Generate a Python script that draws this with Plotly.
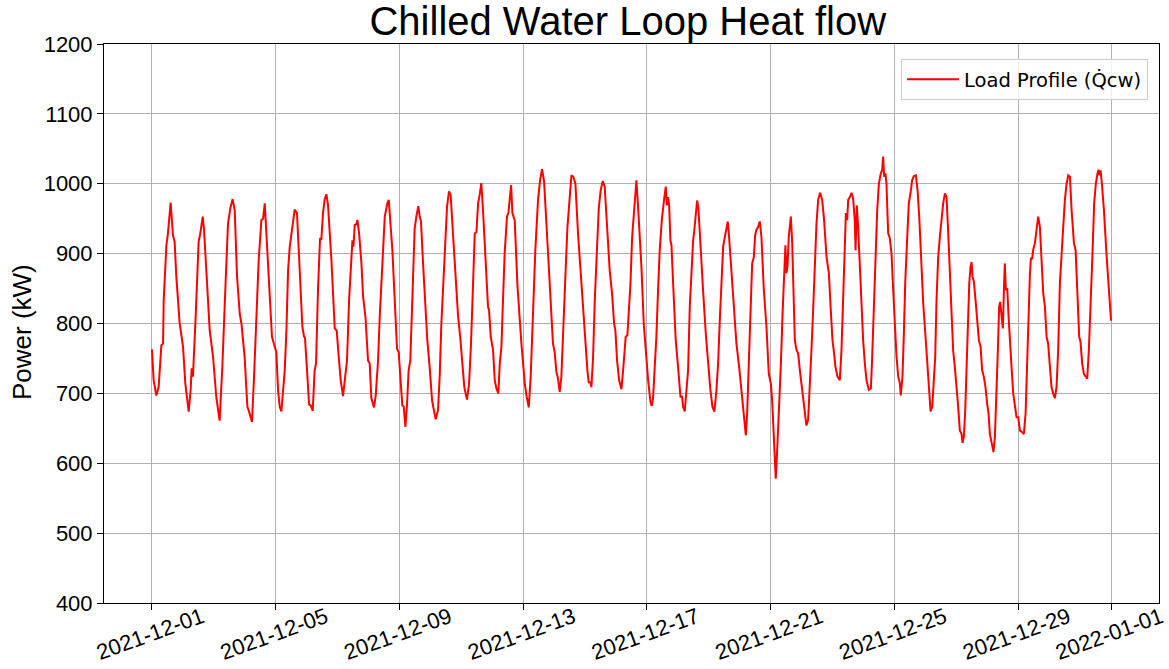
import pandas as pd
import plotly.graph_objects as go

# ---- data (hours since 2021-12-01 00:00, kW) ----
hours = [
    0, 1.3, 3.4, 5.2, 7.3, 8.6, 9.1, 11.2, 12.4, 14.5, 16.3, 17.6, 18.9, 21.5,
    24.1, 25.9, 28.5, 30.0, 30.8, 31.8, 33.9, 36.2, 37.5, 39.4, 40.4, 42.2, 44.8, 47.4,
    49.9, 52.5, 54.6, 57.2, 59.0, 60.8, 62.6, 64.2, 66.0, 68.1, 69.4, 71.9,
    74.0, 75.8, 77.6, 79.2, 81.0, 82.8, 84.9, 86.2, 87.5,
    89.5, 91.3, 93.1, 95.2, 96.5, 97.8, 99.1, 100.4, 101.7, 103.0, 104.3, 105.6, 106.9,
    108.7, 110.7, 112.5, 114.6, 116.7, 118.0, 118.7, 120.3, 121.9, 123.1, 124.7, 126.2,
    127.3, 128.8, 130.4, 131.4, 132.7, 134.0, 135.3, 136.6, 139.2, 141.8, 143.3, 144.9,
    146.4, 148.2, 149.5, 151.3, 152.9, 154.7, 155.5, 156.3, 157.3, 158.6, 159.4, 160.7,
    162.5, 163.8, 165.6, 167.6, 168.9, 170.2, 172.3, 173.6, 175.4, 176.7, 178.5, 180.6,
    182.6, 183.7,
    186.5, 188.3, 190.1, 191.4, 192.9, 194.2, 195.3, 196.6, 197.9, 199.1, 200.4, 202.0,
    203.8, 205.1, 206.6, 207.7, 208.7, 210.3, 212.1, 213.6, 215.4, 217.3, 218.5, 220.1,
    221.9, 223.2, 224.5, 226.3, 227.9, 228.9, 230.4, 231.7, 233.5, 235.6, 237.4, 239.2,
    240.8, 242.3, 244.4, 246.0, 247.5, 249.1, 250.4, 251.7, 253.0, 254.2, 255.5, 256.8,
    258.9, 260.7, 261.5, 262.8, 264.6, 265.9, 267.2, 268.7, 269.8, 271.1, 272.3, 273.6,
    275.4, 276.5, 277.5, 278.6, 279.6, 281.4,
    283.5, 285.3, 286.6, 287.9, 289.2, 290.7, 292.3, 293.8, 295.6, 297.4, 299.5, 301.1,
    302.6, 304.2, 306.0, 308.0, 309.9, 311.1, 312.4, 313.7, 315.0, 316.3, 317.6, 318.9,
    320.7, 322.3, 324.1, 325.4, 326.9, 328.5, 330.5, 332.6, 334.4, 336.2, 337.8, 338.8,
    339.9, 340.9, 342.2, 343.5, 345.0, 346.6, 348.1, 349.7, 351.2, 353.3, 355.1, 356.9,
    358.5, 359.5, 360.8, 362.4, 364.2, 365.7, 366.8, 367.5, 368.8, 370.1, 371.2, 372.5,
    374.0, 375.0, 375.8, 377.1,
    379.7, 381.5, 383.1, 384.9, 386.7, 387.7, 388.7, 390.0, 391.3, 392.6, 393.9, 395.5,
    396.5, 397.5, 398.6, 399.4, 400.4, 401.2, 402.2, 403.0, 404.3, 406.3, 408.1, 410.0,
    411.3, 412.0, 413.3, 414.6, 415.9, 417.2, 418.5, 419.8, 420.6, 421.9, 422.9, 423.9,
    425.5, 427.5, 429.6, 431.4, 433.2, 434.8, 436.3, 437.9, 439.2, 440.5, 441.8, 443.1,
    444.4, 445.7, 446.7, 447.7, 449.5, 451.3, 453.4, 455.5, 457.3, 458.6, 459.9, 460.7,
    461.7, 463.2, 464.5, 465.6, 466.9, 467.9, 468.9, 470.2, 471.5, 472.8, 474.6,
    476.7, 478.5, 480.1, 481.1, 482.1, 483.2, 483.9, 485.0, 486.3, 487.8, 489.1, 490.4,
    491.4, 492.2, 493.0, 494.0, 495.6, 496.6, 497.6, 498.7, 500.0, 501.3, 502.6, 503.9,
    505.1, 506.4, 507.7, 509.0, 510.3, 511.6, 512.9, 514.2, 515.5, 516.8, 518.3, 519.9,
    521.4, 523.3, 525.1, 526.6, 527.9, 529.2, 530.2, 531.8, 533.6, 534.9, 536.2, 537.5,
    538.3, 539.3, 540.1, 541.4, 542.7, 543.9, 545.2, 545.8, 546.8, 547.8, 549.1, 550.4,
    551.7, 553.0, 554.3, 556.1, 557.7, 558.7, 560.0, 561.3, 562.6, 563.9, 565.4, 566.5,
    567.2, 568.0, 569.0, 569.8, 571.1, 572.4,
    573.7, 575.0, 576.3, 577.6, 578.9, 580.2, 580.9, 582.2, 583.3, 584.3, 585.9, 587.1,
    588.4, 589.7, 591.0, 592.6, 593.9, 595.2, 597.0, 598.3, 600.1, 601.4, 602.7, 604.0,
    605.3, 606.5, 607.6, 608.6, 609.9, 611.2, 612.5, 613.8, 615.1, 616.4, 617.7, 619.0,
    620.3, 621.5, 622.8, 624.1, 625.4, 626.7, 628.0, 628.8, 629.8, 630.9, 631.9, 633.2,
    634.0, 635.0, 635.8, 636.5, 637.6, 638.9, 640.2, 641.5, 642.8, 644.0, 645.3, 646.6,
    647.9, 649.0, 650.0, 651.0, 651.8, 652.8, 653.9, 655.2, 656.2, 657.2, 658.0, 659.1,
    660.1, 660.9, 661.6, 662.4, 663.5, 664.5, 665.5,
    666.8, 668.1, 669.4, 670.7, 672.0, 673.3, 674.6, 676.4, 677.7, 678.4, 679.7, 681.0,
    681.8, 682.8, 683.6, 684.9, 686.2, 687.5, 688.8, 690.1, 691.4, 692.7, 694.0, 695.2,
    696.5, 697.8, 699.1, 700.4, 701.7, 703.0, 704.3, 705.6, 706.9, 708.2, 709.5, 710.8,
    712.1, 713.4, 715.2, 716.5, 717.8, 719.3, 720.3, 721.6, 722.9, 724.5, 725.5, 726.8,
    728.1, 729.7, 730.9, 732.2, 733.5, 734.3, 735.1, 735.9, 736.9, 738.5, 740.6, 742.1,
    744.0,
]

load_kw = [
    763, 719, 697, 709, 769, 771, 833, 912, 929, 973, 926, 917, 867, 800,
    767, 714, 674, 705, 736, 724, 810, 917, 929, 953, 934, 867, 790, 752,
    695, 661, 738, 862, 943, 965, 978, 962, 867, 814, 800, 752,
    681, 671, 659, 724, 810, 891, 948, 950, 972,
    905, 843, 781, 767, 759, 705, 681, 674, 700, 733, 790, 876, 910,
    938, 963, 958, 872, 795, 781, 780, 733, 684, 683, 675, 733,
    743, 848, 922, 920, 958, 978, 985, 969, 891, 793, 790, 752,
    719, 696, 716, 747, 833, 891, 919, 910, 941, 942, 948, 929,
    886, 838, 810, 747, 743, 693, 680, 697, 747, 810, 876, 953,
    972, 977,
    905, 833, 764, 759, 714, 683, 681, 652, 685, 733, 747, 843,
    936, 953, 968, 953, 946, 886, 819, 776, 738, 690, 678, 663,
    676, 724, 800, 872, 929, 967, 989, 984, 929, 862, 812, 779,
    743, 709, 691, 714, 771, 848, 929, 931, 972, 984, 1001, 962,
    886, 824, 819, 781, 762, 719, 707, 700, 743, 767, 833, 900,
    953, 958, 977, 998, 958, 948,
    855, 798, 771, 743, 714, 695, 680, 724, 824, 905, 977, 1005,
    1021, 1003, 943, 867, 805, 771, 759, 731, 721, 702, 724, 776,
    867, 938, 986, 1012, 1010, 1000, 929, 872, 819, 767, 733, 716,
    716, 709, 752, 833, 905, 965, 991, 1004, 996, 938, 876, 843,
    800, 790, 747, 719, 706, 738, 767, 781, 783, 819, 857, 924,
    962, 986, 1005, 967,
    881, 800, 757, 719, 688, 682, 693, 733, 781, 848, 905, 948,
    969, 981, 996, 969, 981, 969, 919, 912, 857, 776, 738, 695,
    695, 681, 674, 705, 733, 824, 881, 919, 931, 958, 976, 965,
    905, 848, 786, 738, 705, 681, 674, 705, 743, 805, 867, 910,
    924, 938, 946, 924, 872, 824, 771, 738, 705, 671, 652, 640,
    671, 752, 833, 886, 895, 926, 934, 938, 946, 924, 850,
    795, 728, 714, 690, 642, 604, 578, 619, 666, 738, 810, 867,
    912, 872, 881, 924, 953, 919, 843, 776, 762, 757, 733, 712,
    695, 666, 654, 662, 705, 762, 819, 886, 943, 977, 987, 977,
    948, 895, 872, 819, 776, 757, 738, 724, 719, 762, 848, 915,
    958, 948, 977, 981, 987, 979, 948, 905, 969, 938, 881, 824,
    776, 743, 719, 705, 707, 752, 833, 905, 962, 1000, 1015, 1020,
    1039, 1010, 1015, 1000, 929, 922,
    900, 848, 795, 752, 724, 714, 697, 724, 786, 857, 924, 972,
    986, 1005, 1011, 1012, 991, 953, 881, 829, 781, 747, 709, 674,
    681, 724, 752, 833, 895, 924, 953, 972, 986, 981, 929, 862,
    795, 762, 738, 714, 681, 647, 642, 629, 638, 676, 743, 810,
    857, 881, 888, 867, 860, 833, 800, 776, 767, 733, 724, 709,
    685, 671, 642, 633, 628, 616, 638, 700, 762, 824, 831, 810,
    793, 848, 886, 848, 850, 810, 771,
    738, 700, 685, 666, 666, 647, 645, 642, 671, 714, 810, 867,
    893, 893, 905, 915, 934, 953, 938, 895, 843, 824, 781, 771,
    738, 709, 700, 693, 709, 762, 857, 905, 938, 977, 1000, 1012,
    1010, 962, 915, 905, 848, 781, 774, 743, 728, 724, 721, 762,
    819, 905, 972, 1000, 1015, 1020, 1012, 1019, 1000, 962, 895, 848,
    804,
]

start_time = "2021-12-01 00:00"
x_tick_dates = ["2021-12-01", "2021-12-05", "2021-12-09", "2021-12-13", "2021-12-17",
                "2021-12-21", "2021-12-25", "2021-12-29", "2022-01-01"]
y_ticks = [400, 500, 600, 700, 800, 900, 1000, 1100, 1200]

times = pd.Timestamp(start_time) + pd.to_timedelta(hours, unit="h")

FONT = "Liberation Sans, Arial, sans-serif"

fig = go.Figure()
fig.add_trace(go.Scatter(
    x=times, y=load_kw, mode="lines",
    line=dict(color="red", width=2),
    name="Load Profile (Q\u0307cw)",
))

fig.update_layout(
    width=1169, height=669,
    margin=dict(l=104, r=10, t=44, b=66, autoexpand=False),
    paper_bgcolor="white", plot_bgcolor="white",
    title=dict(text="Chilled Water Loop Heat flow", x=0.537, xanchor="center",
               y=0.968, yref="container", yanchor="middle",
               font=dict(family=FONT, size=40, color="black")),
    showlegend=True,
    legend=dict(x=0.9896, xanchor="right", y=0.973, yanchor="top",
                itemwidth=52,
                bgcolor="rgba(255,255,255,0.8)", bordercolor="#cccccc", borderwidth=1,
                font=dict(family="DejaVu Sans, sans-serif", size=19.5, color="black")),
    font=dict(family=FONT, color="black"),
)

fig.update_xaxes(
    type="date", automargin=False,
    range=["2021-11-29 10:48", "2022-01-02 13:12"],
    tickvals=x_tick_dates, ticktext=x_tick_dates,
    tickangle=-20, ticklabelshift=50, ticklabelstandoff=-14,
    ticklabeloverflow="allow",
    tickfont=dict(family=FONT, size=22, color="black"),
    showgrid=True, gridcolor="#b0b0b0", gridwidth=1,
    showline=True, linecolor="black", linewidth=1, mirror=True,
    ticks="outside", ticklen=6, tickcolor="black", zeroline=False,
)
fig.update_yaxes(
    automargin=False,
    range=[400, 1200], tickvals=y_ticks,
    tickfont=dict(family=FONT, size=22, color="black"),
    showgrid=True, gridcolor="#b0b0b0", gridwidth=1,
    showline=True, linecolor="black", linewidth=1, mirror=True,
    ticks="outside", ticklen=6, tickcolor="black", zeroline=False,
)

fig.add_annotation(text="Power (kW)", textangle=-90, xref="paper", yref="paper",
                   x=-0.0777, y=0.4848, xanchor="center", yanchor="middle",
                   showarrow=False, font=dict(family=FONT, size=26, color="black"))

fig.write_html("out.html", config={"displayModeBar": False},
               post_script="document.body.style.margin='0';document.body.style.overflow='hidden';")
